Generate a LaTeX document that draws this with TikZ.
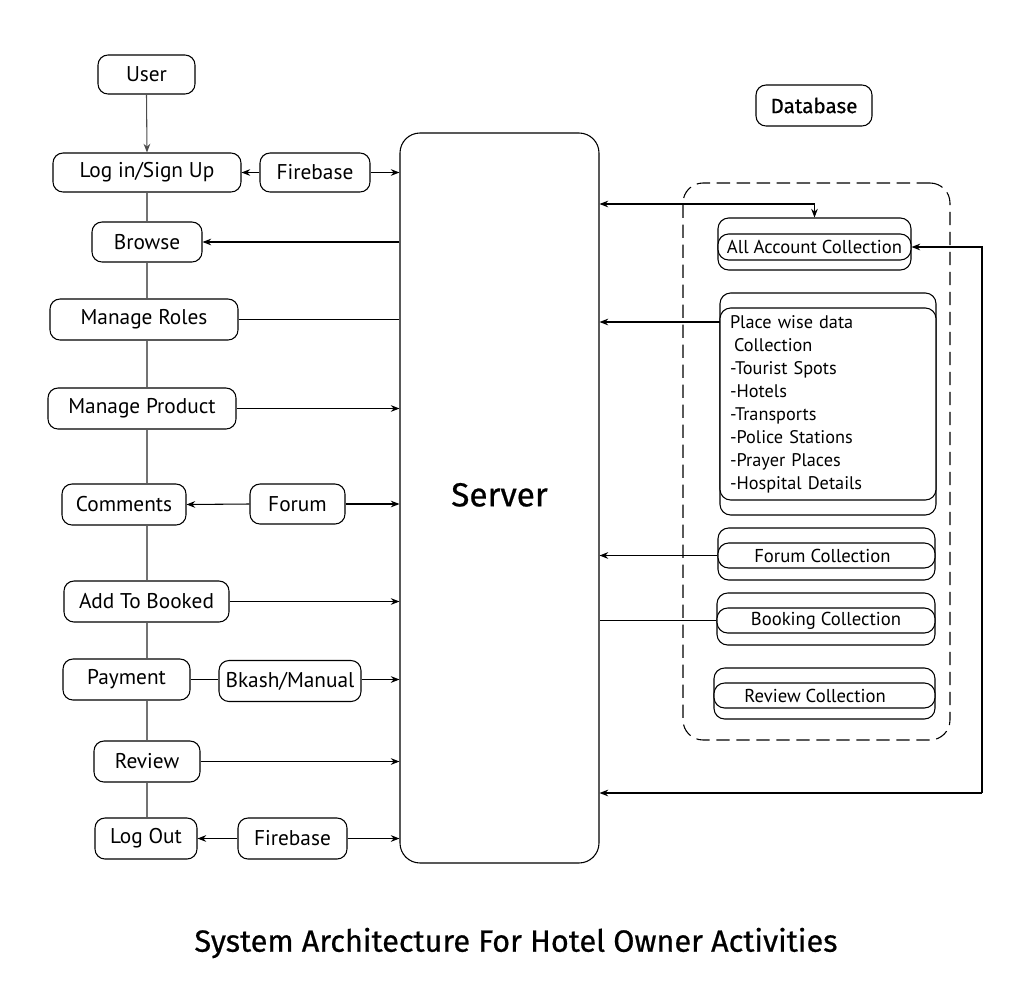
\documentclass[tikz,border=0pt]{standalone}
\usepackage{fontspec}
\setmainfont{PT Sans}
\newfontfamily\dinfont[FakeBold=0.6]{Fira Sans}
\usetikzlibrary{arrows.meta,calc}
\begin{document}
\begin{tikzpicture}[x=0.75pt,y=-0.75pt,
  wh/.style 2 args={minimum width=#1*0.75pt,minimum height=#2*0.75pt},
  box/.style={draw,rounded corners=7.5pt,inner sep=0pt,line width=0.8pt,font=\fontsize{16}{18}\selectfont},
  coll/.style={draw,rounded corners=8pt,inner sep=0pt,line width=0.8pt,fill=white,font=\fontsize{14}{16}\selectfont},
  arr/.style={-{Stealth[length=6.5pt,width=5pt]},line width=0.8pt},
  dbl/.style={{Stealth[length=6.5pt,width=5pt]}-{Stealth[length=6.5pt,width=5pt]},line width=0.8pt},
  plain/.style={line width=0.8pt},
  chain/.style={draw=black!55,line width=1.2pt}]
\useasboundingbox (0,0) rectangle (1032,1000);
% left column
\node[box,wh={97}{39}] (user) at (146.5,74.5) {User};
\node[box,wh={188}{39}] (login) at (147,172.5) {Log in/Sign Up};
\node[box,wh={110}{39}] (fb1) at (315,172.5) {Firebase};
\node[box,wh={110}{40}] (browse) at (147,242) {Browse};
\node[box,wh={188}{41}] (roles) at (144,319.5) {Manage Roles};
\node[box,wh={188}{41}] (product) at (142,408.5) {Manage Product};
\node[box,wh={124}{41}] (comments) at (124,504.5) {Comments};
\node[box,wh={95}{40}] (forum) at (297.5,504) {Forum};
\node[box,wh={165}{41}] (booked) at (146.5,601.5) {Add To Booked};
\node[box,wh={127}{41}] (payment) at (126.5,679.5) {Payment};
\node[box,wh={142}{41}] (bkash) at (290,681) {Bkash/Manual};
\node[box,wh={106}{41}] (review) at (147,761.5) {Review};
\node[box,wh={102}{41}] (logout) at (146,838.5) {Log Out};
\node[box,wh={109}{41}] (fb2) at (292.5,838.5) {Firebase};
% server
\node[draw,rounded corners=15pt,line width=0.8pt,wh={199}{730},font=\dinfont\fontsize{25}{28}\selectfont] (server) at (499.5,498) {\raisebox{5pt}{Server}};
% database
\node[box,wh={116}{41},font=\dinfont\fontsize{15.5}{17}\selectfont] (db) at (814,105.5) {Database};
\node[draw,dashed,dash pattern=on 10pt off 5pt,rounded corners=15pt,line width=0.8pt,wh={267}{557}] (frame) at (816.5,461.5) {};
\node[coll,wh={193}{52}] (accout) at (814.5,244) {};
\node[coll,wh={193}{26}] (accin) at (814.5,247) {All Account Collection};
\node[coll,wh={216}{222}] (placeout) at (828,404) {};
\node[coll,wh={216}{192},align=left,text width=147pt,inner xsep=7.5pt,font=\fontsize{13.7}{17.25}\selectfont] (placein) at (828,404) {Place wise data\\\hspace*{3pt}Collection\\-Tourist Spots\\-Hotels\\-Transports\\-Police Stations\\-Prayer Places\\-Hospital Details};
\node[coll,wh={217}{52}] (forumout) at (826.5,554) {};
\node[coll,wh={217}{25}] (forumin) at (826.5,555.5) {Forum Collection\hspace*{6pt}};
\node[coll,wh={218}{52}] (bookout) at (826,619) {};
\node[coll,wh={218}{25}] (bookin) at (826,620.5) {Booking Collection};
\node[coll,wh={221}{51}] (revout) at (824.5,693.5) {};
\node[coll,wh={221}{25}] (revin) at (824.5,695.5) {Review Collection\hspace*{14pt}};
% title
\node[font=\dinfont\fontsize{23}{26}\selectfont] (title) at (516,943) {System Architecture For Hotel Owner Activities};
% chain
\coordinate (cx) at (147,0);
\draw[arr,draw=black!70] (user.south) -- (login.north);
\draw[chain] (login.south -| cx) -- (browse.north -| cx);
\draw[chain] (browse.south -| cx) -- (roles.north -| cx);
\draw[chain] (roles.south -| cx) -- (product.north -| cx);
\draw[chain] (product.south -| cx) -- (comments.north -| cx);
\draw[chain] (comments.south -| cx) -- (booked.north -| cx);
\draw[chain] (booked.south -| cx) -- (payment.north -| cx);
\draw[chain] (payment.south -| cx) -- (review.north -| cx);
\draw[chain] (review.south -| cx) -- (logout.north -| cx);
% left connectors
\draw[arr] (fb1.west) -- (login.east);
\draw[arr] (fb1.east) -- (fb1.east -| server.west);
\draw[arr] (server.west |- browse.east) -- (browse.east);
\draw[plain] (roles.east) -- (roles.east -| server.west);
\draw[arr] (product.east) -- (product.east -| server.west);
\draw[arr] (forum.west) -- (comments.east);
\draw[arr] (forum.east) -- (forum.east -| server.west);
\draw[arr] (booked.east) -- (booked.east -| server.west);
\draw[plain] (payment.east) -- (payment.east -| bkash.west);
\draw[arr] (bkash.east |- payment.east) -- (payment.east -| server.west);
\draw[arr] (review.east) -- (review.east -| server.west);
\draw[arr] (fb2.west) -- (logout.east);
\draw[arr] (fb2.east) -- (fb2.east -| server.west);
% right connectors
\coordinate (t1) at (815,204);
\draw[dbl] (server.east |- t1) -| (accout.north);
\coordinate (p1) at (720,322);
\draw[arr] (p1) -- (p1 -| server.east);
\draw[arr] (forumin.west) -- (forumin.west -| server.east);
\draw[plain] (bookin.west) -- (bookin.west -| server.east);
\coordinate (r1) at (982,793);
\draw[arr] (r1) |- (accin.east);
\draw[arr] (r1) -- (r1 -| server.east);
\end{tikzpicture}
\end{document}
